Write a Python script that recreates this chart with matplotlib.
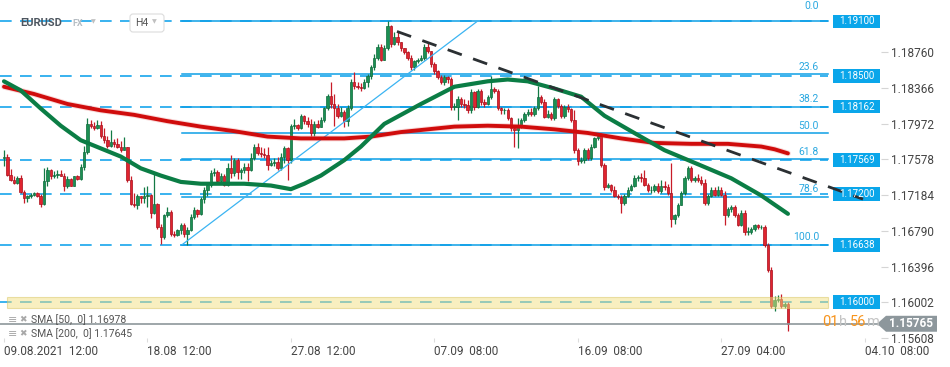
import matplotlib.pyplot as plt
import numpy as np
from matplotlib.patches import Rectangle, Polygon, FancyBboxPatch
from matplotlib.transforms import blended_transform_factory, IdentityTransform

plt.rcParams['font.family'] = ['Roboto', 'DejaVu Sans']

# EURUSD H4 candles (open of each bar = previous close)
first_open = 1.1759
closes = [
    1.1761, 1.1741, 1.1735, 1.1732, 1.1737, 1.1722, 1.1715, 1.1717, 1.1719, 1.1721,
    1.1718, 1.1709, 1.1734, 1.1746, 1.1740, 1.1741, 1.1742, 1.1740, 1.1728, 1.1736,
    1.1729, 1.1739, 1.1736, 1.1750, 1.1766, 1.1797, 1.1795, 1.1792, 1.1796, 1.1784,
    1.1779, 1.1773, 1.1777, 1.1775, 1.1772, 1.1768, 1.1771, 1.1735, 1.1709, 1.1708,
    1.1717, 1.1715, 1.1717, 1.1719, 1.1699, 1.1709, 1.1683, 1.1672, 1.1696, 1.1700,
    1.1675, 1.1674, 1.1680, 1.1686, 1.1675, 1.1680, 1.1694, 1.1702, 1.1698, 1.1714,
    1.1724, 1.1730, 1.1743, 1.1744, 1.1734, 1.1740, 1.1730, 1.1748, 1.1743, 1.1757,
    1.1744, 1.1746, 1.1750, 1.1746, 1.1759, 1.1772, 1.1765, 1.1764, 1.1763, 1.1752,
    1.1754, 1.1755, 1.1748, 1.1761, 1.1770, 1.1757, 1.1795, 1.1796, 1.1792, 1.1806,
    1.1800, 1.1797, 1.1787, 1.1797, 1.1794, 1.1801, 1.1814, 1.1828, 1.1819, 1.1814,
    1.1806, 1.1810, 1.1800, 1.1814, 1.1843, 1.1839, 1.1838, 1.1837, 1.1843, 1.1850,
    1.1860, 1.1870, 1.1882, 1.1868, 1.1881, 1.1905, 1.1885, 1.1893, 1.1887, 1.1881,
    1.1876, 1.1870, 1.1860, 1.1866, 1.1868, 1.1870, 1.1882, 1.1877, 1.1863, 1.1855,
    1.1849, 1.1843, 1.1849, 1.1847, 1.1816, 1.1816, 1.1825, 1.1819, 1.1818, 1.1812,
    1.1832, 1.1816, 1.1833, 1.1821, 1.1819, 1.1827, 1.1836, 1.1833, 1.1814, 1.1812,
    1.1812, 1.1803, 1.1792, 1.1790, 1.1794, 1.1801, 1.1808, 1.1810, 1.1808, 1.1814,
    1.1827, 1.1821, 1.1805, 1.1808, 1.1803, 1.1825, 1.1817, 1.1806, 1.1816, 1.1813,
    1.1801, 1.1768, 1.1756, 1.1757, 1.1768, 1.1759, 1.1772, 1.1781, 1.1784, 1.1752,
    1.1727, 1.1730, 1.1724, 1.1718, 1.1716, 1.1710, 1.1718, 1.1724, 1.1729, 1.1737,
    1.1738, 1.1737, 1.1730, 1.1724, 1.1724, 1.1729, 1.1723, 1.1729, 1.1727, 1.1721,
    1.1692, 1.1696, 1.1708, 1.1721, 1.1737, 1.1748, 1.1735, 1.1737, 1.1735, 1.1732,
    1.1710, 1.1718, 1.1724, 1.1719, 1.1724, 1.1719, 1.1696, 1.1703, 1.1705, 1.1696,
    1.1686, 1.1699, 1.1678, 1.1678, 1.1681, 1.1685, 1.1683, 1.1683, 1.1663, 1.1636,
    1.1596, 1.1603, 1.1604, 1.1596, 1.1598, 1.15765,
]
highs = [
    1.1768, 1.1764, 1.1747, 1.1739, 1.1739, 1.1741, 1.1724, 1.1719, 1.1721, 1.1722,
    1.1722, 1.1720, 1.1748, 1.1750, 1.1747, 1.1745, 1.1746, 1.1746, 1.1743, 1.1739,
    1.1737, 1.1740, 1.1741, 1.1753, 1.1773, 1.1803, 1.1801, 1.1799, 1.1801, 1.1800,
    1.1792, 1.1784, 1.1790, 1.1780, 1.1781, 1.1778, 1.1783, 1.1772, 1.1740, 1.1721,
    1.1720, 1.1718, 1.1727, 1.1729, 1.1720, 1.1742, 1.1710, 1.1687, 1.1698, 1.1705,
    1.1702, 1.1679, 1.1681, 1.1688, 1.1688, 1.1683, 1.1698, 1.1705, 1.1703, 1.1716,
    1.1727, 1.1732, 1.1746, 1.1748, 1.1746, 1.1743, 1.1742, 1.1754, 1.1763, 1.1759,
    1.1759, 1.1748, 1.1754, 1.1754, 1.1765, 1.1775, 1.1776, 1.1772, 1.1770, 1.1772,
    1.1757, 1.1759, 1.1761, 1.1765, 1.1773, 1.1772, 1.1797, 1.1802, 1.1797, 1.1808,
    1.1807, 1.1805, 1.1802, 1.1800, 1.1801, 1.1805, 1.1816, 1.1830, 1.1843, 1.1830,
    1.1819, 1.1816, 1.1812, 1.1818, 1.1847, 1.1854, 1.1843, 1.1842, 1.1847, 1.1852,
    1.1862, 1.1874, 1.1885, 1.1885, 1.1884, 1.1910, 1.1906, 1.1898, 1.1899, 1.1884,
    1.1881, 1.1877, 1.1873, 1.1868, 1.1870, 1.1873, 1.1885, 1.1886, 1.1877, 1.1865,
    1.1857, 1.1851, 1.1851, 1.1850, 1.1849, 1.1820, 1.1828, 1.1827, 1.1825, 1.1823,
    1.1836, 1.1833, 1.1836, 1.1836, 1.1825, 1.1829, 1.1850, 1.1838, 1.1836, 1.1816,
    1.1815, 1.1814, 1.1805, 1.1796, 1.1803, 1.1803, 1.1810, 1.1813, 1.1814, 1.1817,
    1.1839, 1.1829, 1.1824, 1.1812, 1.1810, 1.1827, 1.1826, 1.1819, 1.1818, 1.1819,
    1.1814, 1.1812, 1.1770, 1.1760, 1.1770, 1.1770, 1.1775, 1.1783, 1.1787, 1.1787,
    1.1754, 1.1732, 1.1731, 1.1728, 1.1720, 1.1719, 1.1720, 1.1727, 1.1731, 1.1741,
    1.1741, 1.1743, 1.1746, 1.1732, 1.1729, 1.1731, 1.1732, 1.1735, 1.1734, 1.1731,
    1.1754, 1.1698, 1.1710, 1.1723, 1.1740, 1.1751, 1.1751, 1.1740, 1.1742, 1.1740,
    1.1736, 1.1720, 1.1727, 1.1727, 1.1728, 1.1727, 1.1723, 1.1705, 1.1707, 1.1707,
    1.1699, 1.1702, 1.1702, 1.1683, 1.1683, 1.1687, 1.1687, 1.1685, 1.1685, 1.1666,
    1.1639, 1.1607, 1.1608, 1.1609, 1.1600, 1.1600,
]
lows = [
    1.1751, 1.1740, 1.1734, 1.1731, 1.1731, 1.1721, 1.1710, 1.1711, 1.1715, 1.1717,
    1.1716, 1.1705, 1.1708, 1.1729, 1.1736, 1.1737, 1.1737, 1.1739, 1.1723, 1.1726,
    1.1728, 1.1728, 1.1735, 1.1735, 1.1746, 1.1764, 1.1792, 1.1790, 1.1791, 1.1782,
    1.1776, 1.1770, 1.1772, 1.1772, 1.1770, 1.1766, 1.1768, 1.1733, 1.1707, 1.1705,
    1.1703, 1.1710, 1.1710, 1.1705, 1.1693, 1.1698, 1.1681, 1.1664, 1.1670, 1.1694,
    1.1673, 1.1672, 1.1673, 1.1675, 1.1672, 1.16638, 1.1679, 1.1692, 1.1694, 1.1696,
    1.1710, 1.1718, 1.1727, 1.1740, 1.1732, 1.1731, 1.1728, 1.1728, 1.1737, 1.1740,
    1.1736, 1.1736, 1.1743, 1.1734, 1.1745, 1.1757, 1.1763, 1.1761, 1.1759, 1.1746,
    1.1751, 1.1751, 1.1746, 1.1746, 1.1754, 1.1735, 1.1754, 1.1791, 1.1790, 1.1791,
    1.1797, 1.1794, 1.1784, 1.1784, 1.1792, 1.1794, 1.1799, 1.1812, 1.1814, 1.1795,
    1.1803, 1.1805, 1.1794, 1.1795, 1.1812, 1.1836, 1.1835, 1.1833, 1.1836, 1.1838,
    1.1847, 1.1857, 1.1868, 1.1866, 1.1867, 1.1879, 1.1882, 1.1884, 1.1884, 1.1877,
    1.1874, 1.1868, 1.1857, 1.1857, 1.1864, 1.1866, 1.1868, 1.1875, 1.1860, 1.1852,
    1.1847, 1.1841, 1.1840, 1.1842, 1.1812, 1.1812, 1.1801, 1.1816, 1.1814, 1.1809,
    1.1809, 1.1812, 1.1814, 1.1818, 1.1816, 1.1818, 1.1825, 1.1831, 1.1812, 1.1808,
    1.1808, 1.1801, 1.1789, 1.1772, 1.1770, 1.1792, 1.1799, 1.1806, 1.1806, 1.1806,
    1.1812, 1.1819, 1.1803, 1.1803, 1.1801, 1.1801, 1.1814, 1.1804, 1.1803, 1.1810,
    1.1799, 1.1765, 1.1752, 1.1754, 1.1754, 1.1757, 1.1757, 1.1770, 1.1779, 1.1750,
    1.1724, 1.1726, 1.1722, 1.1716, 1.1714, 1.1699, 1.1707, 1.1716, 1.1723, 1.1727,
    1.1734, 1.1733, 1.1728, 1.1722, 1.1721, 1.1722, 1.1721, 1.1721, 1.1724, 1.1719,
    1.1683, 1.1687, 1.1694, 1.1707, 1.1719, 1.1735, 1.1733, 1.1733, 1.1733, 1.1730,
    1.1707, 1.1708, 1.1716, 1.1717, 1.1718, 1.1717, 1.1685, 1.1694, 1.1700, 1.1694,
    1.1684, 1.1684, 1.1674, 1.1674, 1.1675, 1.1679, 1.1681, 1.1681, 1.1661, 1.1634,
    1.1594, 1.1591, 1.1601, 1.1594, 1.1594, 1.1569,
]

# moving averages (bar index, value)
sma50_idx = [0, 5, 11, 17, 23, 29, 35, 41, 47, 53, 59, 65, 72, 80, 86, 90, 95, 102,
             107, 114, 125, 135, 145, 151, 157, 165, 173, 180, 188, 198, 209, 218, 227, 235]
sma50_val = [1.1844, 1.1834, 1.1814, 1.1795, 1.1779, 1.1770, 1.1761, 1.1748, 1.1740,
             1.1733, 1.1731, 1.1731, 1.1731, 1.1729, 1.1725, 1.1731, 1.1740, 1.1757,
             1.1772, 1.1797, 1.1819, 1.1838, 1.1844, 1.1846, 1.1844, 1.1836, 1.1827,
             1.1806, 1.1789, 1.1768, 1.1751, 1.1737, 1.1718, 1.16978]
sma200_idx = [0, 9, 19, 29, 39, 49, 59, 69, 79, 89, 102, 110, 119, 135, 145, 155, 165,
              175, 185, 195, 206, 217, 227, 231, 235]
sma200_val = [1.1838, 1.1830, 1.1819, 1.1812, 1.1807, 1.1800, 1.1794, 1.1789, 1.1783,
              1.1781, 1.1781, 1.1783, 1.1788, 1.1794, 1.1795, 1.1794, 1.1791, 1.1787,
              1.1781, 1.1776, 1.1775, 1.1775, 1.1772, 1.1769, 1.17645]

# fibonacci retracement and drawn levels
fib_hi, fib_lo = 1.19100, 1.16638
fib_x0, fib_x1 = 53.4, 141.8
fib_pcts = [0.0, 23.6, 38.2, 50.0, 61.8, 78.6, 100.0]
levels = [1.19100, 1.18500, 1.18162, 1.17569, 1.17200, 1.16638, 1.16000]
zone_lo, zone_hi = 1.1594, 1.1606
trend_x = [117.8, 257.5]
trend_y = [1.1899, 1.1714]
last_price = 1.15765

yticks = [1.18760, 1.18366, 1.17972, 1.17578, 1.17184, 1.16790, 1.16396, 1.16002, 1.15608]
xtick_idx = [0, 43, 86, 129, 172, 215, 258]
xtick_lab = ['09.08.2021  12:00', '18.08  12:00', '27.08  12:00', '07.09  08:00',
             '16.09  08:00', '27.09  04:00', '04.10  08:00']

W, H = 950, 367
fig = plt.figure(figsize=(W / 100, H / 100), dpi=100)
ax = fig.add_axes([0, 29 / H, 881 / W, 338 / H])
ax.set_xlim(-1.2, 262.9)
ax.set_ylim(1.15653, 1.19337)
for s in ax.spines.values():
    s.set_visible(False)

n = len(closes)
x = np.arange(n)
c = np.array(closes)
o = np.concatenate([[first_open], c[:-1]])
hi = np.maximum(np.array(highs), np.maximum(o, c))
lo = np.minimum(np.array(lows), np.minimum(o, c))
up = c >= o

BLUE = '#18a6ec'
line_end = 247.0

# horizontal drawn levels (dashed, full width)
for p in levels:
    ax.plot([-1.2, line_end], [p, p], color=BLUE, lw=1.2, ls=(0, (7, 5)), zorder=1)

# fib lines
for pct in fib_pcts:
    p = fib_hi - pct / 100 * (fib_hi - fib_lo)
    ax.plot([fib_x0, line_end], [p, p], color='#0d9fe6', lw=1.1, zorder=1)
    off = 0.0014 if pct == 0 else 0.0005
    ax.text(244.3, p + off, f'{pct:.1f}', ha='right', va='baseline',
            fontsize=7.5, color='#2aa8e0', zorder=6)
ax.plot([fib_x0, fib_x1], [fib_lo, fib_hi], color='#3bb4f2', lw=0.9, zorder=4)

# candles
wick_col = np.where(up, '#137a45', '#c81c28')
ax.vlines(x, lo, hi, colors=wick_col, lw=0.9, zorder=2)
body_h = np.maximum(np.abs(c - o), 0.00004)
ax.bar(x[up], body_h[up], bottom=np.minimum(o, c)[up], width=0.72,
       color='#1b9053', edgecolor='#0f6b3c', lw=0.5, zorder=3)
ax.bar(x[~up], body_h[~up], bottom=np.minimum(o, c)[~up], width=0.72,
       color='#e0242f', edgecolor='#a8101c', lw=0.5, zorder=3)

# moving averages
ax.plot(sma200_idx, sma200_val, color='#e05050', lw=4.2, alpha=0.22, zorder=4,
        solid_capstyle='round')
ax.plot(sma200_idx, sma200_val, color='#d00c0c', lw=2.8, zorder=4, solid_capstyle='round')
ax.plot(sma50_idx, sma50_val, color='#0b7d45', lw=3, zorder=4, solid_capstyle='round')

# support zone
ax.add_patch(Rectangle((0.9, zone_lo), line_end - 0.9, zone_hi - zone_lo,
                       facecolor='#f2e182', edgecolor='#d9c460', lw=0.8,
                       alpha=0.5, zorder=5))

# trend line
ax.plot(trend_x, trend_y, color='#2b3033', lw=2, ls=(0, (5.4, 4.3)), zorder=9,
        clip_on=False)

# last price line
ax.axhline(last_price, color='#8e979b', lw=1.2, zorder=5)

# axes ticks
ax.yaxis.tick_right()
ax.set_yticks(yticks)
ax.set_yticklabels([f'{v:.5f}' for v in yticks])
ax.tick_params(axis='y', length=5, width=0.8, color='#d5d5d5', labelcolor='#444',
               labelsize=8.5, pad=2)
ax.set_xticks(xtick_idx)
ax.set_xticklabels(xtick_lab)
ax.tick_params(axis='x', length=3, width=0.8, color='#dddddd', labelcolor='#444',
               labelsize=8.5, pad=2)
for lab in ax.get_xticklabels():
    lab.set_horizontalalignment('left')

# level price boxes
bt = blended_transform_factory(IdentityTransform(), ax.transData)
for p in levels:
    ax.add_patch(Rectangle((833, p - 0.00077), 47, 0.00154, transform=bt,
                           facecolor='#0aa6ea', edgecolor='none', clip_on=False, zorder=8))
    ax.text(856.5, p, f'{p:.5f}', transform=bt, ha='center', va='center',
            fontsize=7, color='white', zorder=9, clip_on=False)

# last price tag
h = 0.00088
ax.add_patch(Polygon([(877, last_price), (886, last_price + h), (937, last_price + h),
                      (937, last_price - h), (886, last_price - h)], closed=True,
                     transform=bt, facecolor='#8d979c', edgecolor='none',
                     clip_on=False, zorder=10))
ax.text(911, last_price, f'{last_price:.5f}', transform=bt, ha='center', va='center',
        fontsize=8.5, color='white', weight='bold', zorder=11, clip_on=False)

# countdown
for txt, px, col in [('01', 822, '#f7941d'), ('h', 838.5, '#c4c4c4'),
                     ('56', 850, '#f7941d'), ('m', 866.5, '#c4c4c4')]:
    fig.text(px / W, 1 - 322 / H, txt, fontsize=10.5, color=col, va='center')

# top-left header
fig.text(20 / W, 1 - 23 / H, 'EURUSD', fontsize=8, weight='bold', color='#4d5660',
         va='center')
fig.text(72 / W, 1 - 24 / H, 'FX', fontsize=6.5, weight='bold', color='#b5bcc2',
         va='center')
fig.text(91 / W, 1 - 22 / H, '\u25BC', fontsize=4.5, color='#c0c0c0', va='center',
         family='DejaVu Sans')
fig.patches.append(FancyBboxPatch((130, H - 32), 34, 18, boxstyle='round,pad=0,rounding_size=3',
                                  transform=IdentityTransform(), facecolor='white',
                                  edgecolor='#dcdcdc', lw=0.8, zorder=5))
fig.text(135 / W, 1 - 23 / H, 'H4', fontsize=7.5, color='#555', va='center', zorder=6)
fig.text(152 / W, 1 - 22 / H, '\u25BC', fontsize=4.5, color='#c0c0c0', va='center',
         family='DejaVu Sans', zorder=6)

# bottom-left indicator legend
for py, txt in [(320, 'SMA [50,  0] 1.16978'), (334, 'SMA [200,  0] 1.17645')]:
    fig.text(8 / W, 1 - py / H, '\u2261', fontsize=8, color='#a8a8a8', va='center',
             family='DejaVu Sans')
    fig.text(19 / W, 1 - py / H, '\u2716', fontsize=6.5, color='#a8a8a8', va='center',
             family='DejaVu Sans')
    fig.text(31 / W, 1 - py / H, txt, fontsize=7.5, color='#555', va='center')

fig.savefig('out.png', dpi=100)
